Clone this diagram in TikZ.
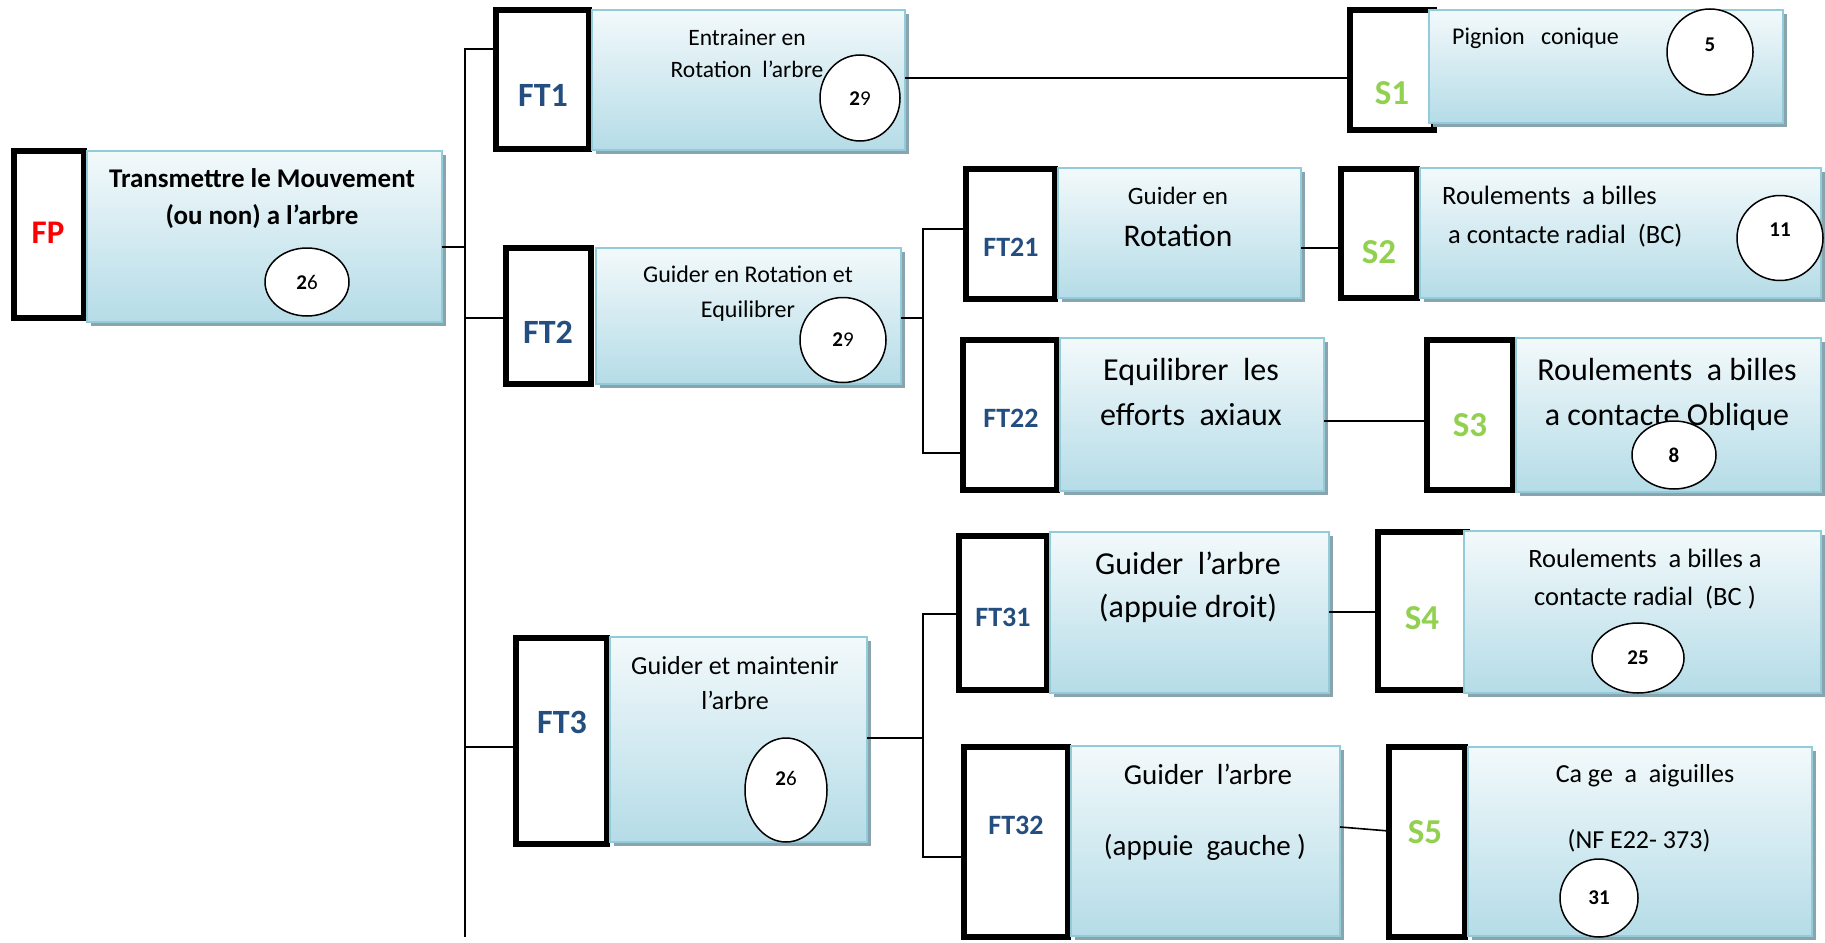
\documentclass[tikz,border=0pt]{standalone}
\usepackage{fontspec}
\setmainfont{Carlito}
\usetikzlibrary{shadows,shapes.geometric,calc}

\definecolor{panelblue}{RGB}{181,220,231}
\definecolor{panelline}{RGB}{146,203,218}
\definecolor{panelshadow}{RGB}{138,164,174}
\definecolor{ftblue}{RGB}{36,77,128}
\definecolor{sgreen}{RGB}{146,208,80}
\definecolor{fpred}{RGB}{255,0,0}

\pgfdeclareverticalshading{panelshade}{100bp}{color(0bp)=(panelblue); color(25bp)=(panelblue); color(85bp)=(white); color(100bp)=(white)}

\newcommand\fsz[1]{\fontsize{#1}{#1}\selectfont}

\begin{document}
\begin{tikzpicture}[x=1pt,y=-1pt,
  box/.style={rectangle, anchor=north west, inner sep=0pt, outer sep=0pt},
  frame/.style={box, draw=black, line width=6pt, fill=white},
  panel/.style={box, draw=panelline, line width=1.5pt, shade, shading=panelshade,
    drop shadow={shadow xshift=4pt, shadow yshift=-4pt, opacity=1, fill=panelshadow}},
  wire/.style={draw=black, line width=1.6pt},
  tag/.style={font=\fsz{34}\bfseries, text=ftblue, inner sep=0pt},
  subtag/.style={font=\fsz{28}\bfseries, text=ftblue, inner sep=0pt},
  soltag/.style={font=\fsz{35}\bfseries, text=sgreen, inner sep=0pt},
  txt/.style={anchor=mid, inner sep=0pt, yshift=-5pt, font=\fsz{#1}},
  txtw/.style={anchor=mid west, inner sep=0pt, yshift=-5pt, font=\fsz{#1}},
  num/.style={ellipse, draw=black, line width=1.5pt, fill=white, inner sep=0pt},
  numtxt/.style={inner sep=0pt, font=\fsz{21}},
  numbold/.style={inner sep=0pt, font=\fsz{21}\bfseries},
]
\useasboundingbox (0,0) rectangle (1825,942);
\fill[white] (0,0) rectangle (1825,942);

% ---------- frames (function / solution tags) ----------
\node[frame, minimum width=70pt, minimum height=167pt] (fpK)  at (14,151) {};
\node[frame, minimum width=93pt, minimum height=139pt] (ft1K) at (496,10) {};
\node[frame, minimum width=84pt, minimum height=120pt] (s1K)  at (1350,10) {};
\node[frame, minimum width=85pt, minimum height=136pt] (ft2K) at (506,248) {};
\node[frame, minimum width=89pt, minimum height=130pt] (ft21K) at (966,169) {};
\node[frame, minimum width=76pt, minimum height=129pt] (s2K)  at (1341,169) {};
\node[frame, minimum width=94pt, minimum height=150pt] (ft22K) at (963,340) {};
\node[frame, minimum width=86pt, minimum height=150pt] (s3K)  at (1427,340) {};
\node[frame, minimum width=91pt, minimum height=206pt] (ft3K) at (516,638) {};
\node[frame, minimum width=88pt, minimum height=154pt] (ft31K) at (959,536) {};
\node[frame, minimum width=89pt, minimum height=158pt] (s4K)  at (1378,532) {};
\node[frame, minimum width=104pt, minimum height=190pt] (ft32K) at (964,747) {};
\node[frame, minimum width=76pt, minimum height=190pt] (s5K)  at (1389,747) {};

% ---------- shaded panels ----------
\node[panel, minimum width=355pt, minimum height=171pt] (fpP)  at (87,151) {};
\node[panel, minimum width=313pt, minimum height=140pt] (ft1P) at (592,10) {};
\node[panel, minimum width=354pt, minimum height=113pt] (s1P)  at (1429,10) {};
\node[panel, minimum width=305pt, minimum height=136pt] (ft2P) at (596,248) {};
\node[panel, minimum width=243pt, minimum height=130pt] (ft21P) at (1058,168) {};
\node[panel, minimum width=401pt, minimum height=130pt] (s2P)  at (1420,168) {};
\node[panel, minimum width=264pt, minimum height=153pt] (ft22P) at (1060,338) {};
\node[panel, minimum width=305pt, minimum height=154pt] (s3P)  at (1516,338) {};
\node[panel, minimum width=257pt, minimum height=205pt] (ft3P) at (610,637) {};
\node[panel, minimum width=279pt, minimum height=161pt] (ft31P) at (1050,532) {};
\node[panel, minimum width=357pt, minimum height=162pt] (s4P)  at (1464,531) {};
\node[panel, minimum width=269pt, minimum height=190pt] (ft32P) at (1071,746) {};
\node[panel, minimum width=344pt, minimum height=189pt] (s5P)  at (1468,747) {};

% ---------- connectors ----------
\coordinate (trTop) at (465,49);
\coordinate (trBot) at (465,937);
\coordinate (jFP)  at (465,247);
\coordinate (jFT2) at (465,318);
\coordinate (jFT3) at (465,747);
\draw[wire] (trTop -| ft1K.west) -- (trTop) -- (trBot);
\draw[wire] (jFP -| fpP.east) -- (jFP);
\draw[wire] (jFT2) -- (jFT2 -| ft2K.west);
\draw[wire] (jFT3) -- (jFT3 -| ft3K.west);

\coordinate (jS1) at (1100,78);
\draw[wire] (jS1 -| ft1P.east) -- (jS1 -| s1K.west);

\coordinate (v2top) at (923,229);
\coordinate (v2bot) at (923,453);
\coordinate (v2mid) at (923,318);
\draw[wire] (v2mid -| ft2P.east) -- (v2mid);
\draw[wire] (v2top -| ft21K.west) -- (v2top) -- (v2bot) -- (v2bot -| ft22K.west);

\coordinate (jS2) at (1320,248);
\draw[wire] (jS2 -| ft21P.east) -- (jS2 -| s2K.west);
\coordinate (jS3) at (1370,421);
\draw[wire] (jS3 -| ft22P.east) -- (jS3 -| s3K.west);

\coordinate (v3top) at (923,614);
\coordinate (v3bot) at (923,857);
\coordinate (v3mid) at (923,738);
\draw[wire] (v3mid -| ft3P.east) -- (v3mid);
\draw[wire] (v3top -| ft31K.west) -- (v3top) -- (v3bot) -- (v3bot -| ft32K.west);

\coordinate (jS4) at (1350,612);
\draw[wire] (jS4 -| ft31P.east) -- (jS4 -| s4K.west);
\coordinate (jS5a) at (1360,827);
\coordinate (jS5b) at (1360,831);
\draw[wire] (jS5a -| ft32P.east) -- (jS5b -| s5K.west);

% ---------- tag labels ----------
\node[font=\fsz{33}\bfseries, text=fpred, inner sep=0pt] (fpL) at (48,233) {FP};
\node[tag] (ft1L) at (543,95) {FT1};
\node[tag] (ft2L) at (548,332) {FT2};
\node[tag] (ft3L) at (562,722) {FT3};
\node[subtag] (ft21L) at (1011,247) {FT21};
\node[subtag] (ft22L) at (1011,418) {FT22};
\node[subtag] (ft31L) at (1003,617) {FT31};
\node[subtag] (ft32L) at (1016,825) {FT32};
\node[soltag] (s1L) at (1392,93) {S1};
\node[soltag] (s2L) at (1379,252) {S2};
\node[soltag] (s3L) at (1470,425) {S3};
\node[soltag] (s4L) at (1422,618) {S4};
\node[soltag] (s5L) at (1425,832) {S5};

% ---------- panel texts ----------
\node[txt=27, font=\fsz{27}\bfseries] (fpT1) at (262,180) {Transmettre le Mouvement};
\node[txt=27, font=\fsz{27}\bfseries] (fpT2) at (262,217) {(ou non) a l’arbre};

\node[txt=23.5] (ft1T1) at (747,38) {Entrainer en};
\node[txt=23.5] (ft1T2) at (747,70) {Rotation\ \ l’arbre};

\node[txtw=24] (s1T) at (1452,37) {Pignion\ \ \ conique};

\node[txt=24] (ft2T1) at (748,275) {Guider en Rotation et};
\node[txt=24] (ft2T2) at (748,310) {Equilibrer};

\node[txt=25] (ft21T1) at (1178,197) {Guider en};
\node[txt=31.5] (ft21T2) at (1178,239) {Rotation};

\node[txtw=26.5] (s2T1) at (1442,197) {Roulements\ \ a billes};
\node[txtw=26.5] (s2T2) at (1448,236) {a contacte radial\ \ (BC)};

\node[txt=32] (ft22T1) at (1191,373) {Equilibrer\ \ les};
\node[txt=32] (ft22T2) at (1191,418) {efforts\ \ axiaux};

\node[txt=32] (s3T1) at (1667,373) {Roulements\ \ a billes};
\node[txt=32] (s3T2) at (1667,418) {a contacte Oblique};

\node[txt=26] (ft3T1) at (735,667) {Guider et maintenir};
\node[txt=26] (ft3T2) at (735,702) {l’arbre};

\node[txt=32] (ft31T1) at (1188,567) {Guider\ \ l’arbre};
\node[txt=32] (ft31T2) at (1188,610) {(appuie droit)};

\node[txt=26.5] (s4T1) at (1645,560) {Roulements\ \ a billes a};
\node[txt=26.5] (s4T2) at (1645,598) {contacte radial\ \ (BC )};

\node[txt=29] (ft32T1) at (1208,777) {Guider\ \ l’arbre};
\node[txt=29] (ft32T2) at (1205,848) {(appuie\ \ gauche )};

\node[txt=26] (s5T1) at (1645,775) {Ca ge\ \ a\ \ aiguilles};
\node[txt=26] (s5T2) at (1639,841) {(NF E22- 373)};

% ---------- part numbers ----------
\node[num, minimum width=84pt, minimum height=68pt] (eFP) at (307,282) {};
\node[numtxt] at (eFP.center) {\textbf{2}6};
\node[num, minimum width=80pt, minimum height=86pt] (eFT1) at (860,98) {};
\node[numtxt] at ($(eFT1.center)+(0,1)$) {\textbf{2}9};
\node[num, minimum width=86pt, minimum height=86pt] (eS1) at (1710,52) {};
\node[numbold] at ($(eS1.center)+(0,-7)$) {5};
\node[num, minimum width=86pt, minimum height=85pt] (eFT2) at (843,340) {};
\node[numtxt] at (eFT2.center) {\textbf{2}9};
\node[num, minimum width=86pt, minimum height=85pt] (eS2) at (1780,238) {};
\node[numbold] at ($(eS2.center)+(0,-8)$) {11};
\node[num, minimum width=84pt, minimum height=68pt] (eS3) at (1674,455) {};
\node[numbold] at (eS3.center) {8};
\node[num, minimum width=82pt, minimum height=104pt] (eFT3) at (786,790) {};
\node[numtxt] at ($(eFT3.center)+(0,-12)$) {\textbf{2}6};
\node[num, minimum width=92pt, minimum height=70pt] (eS4) at (1638,658) {};
\node[numbold] at (eS4.center) {25};
\node[num, minimum width=78pt, minimum height=78pt] (eS5) at (1599,898) {};
\node[numbold] at (eS5.center) {31};
\end{tikzpicture}
\end{document}
